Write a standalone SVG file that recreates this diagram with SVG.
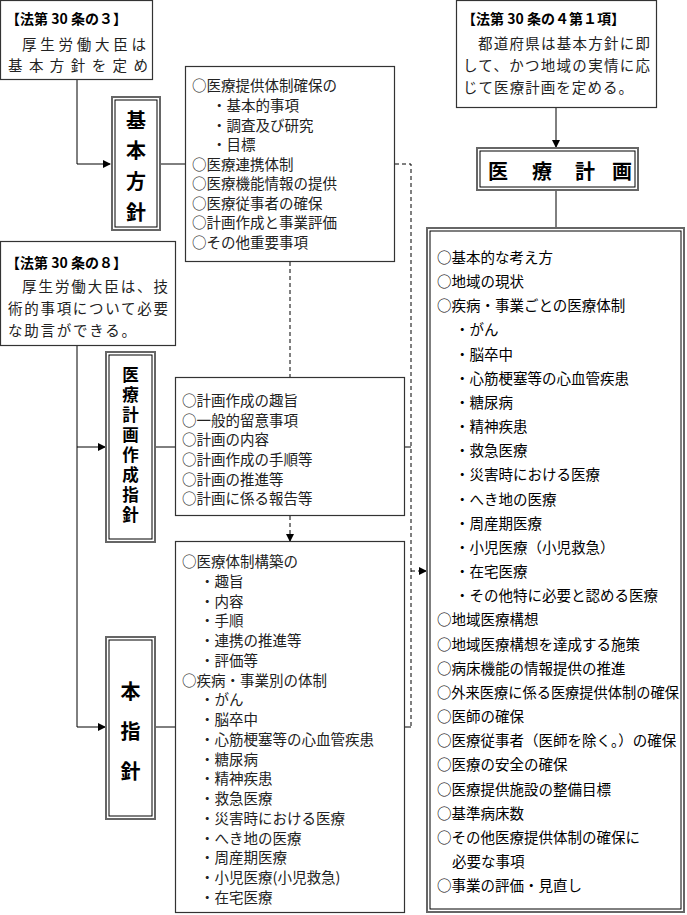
<svg xmlns="http://www.w3.org/2000/svg" width="687" height="915" viewBox="0 0 687 915">
<style>
text{font-family:"Noto Sans CJK JP","Noto Sans",sans-serif;fill:#222;dominant-baseline:central}
.m{font-size:14.5px}
.g{font-size:14.5px;fill:#000}
.h{font-size:14px;font-weight:bold;fill:#000}
.v{font-weight:bold;fill:#000;text-anchor:middle}
.box{fill:#fff;stroke:#333;stroke-width:1.2}
.o{fill:#fff;stroke:#666;stroke-width:2}
.i{fill:none;stroke:#000;stroke-width:1}
.ln{fill:none;stroke:#000;stroke-width:1}
.d{fill:none;stroke:#000;stroke-width:1;stroke-dasharray:4,3}
</style>
<defs><marker id="a" markerWidth="8" markerHeight="8" refX="7" refY="4" orient="auto" markerUnits="userSpaceOnUse"><path d="M0,0L8,4L0,8z" fill="#000"/></marker></defs>
<g id="connectors">
<path class="ln" d="M77,80V164H110" marker-end="url(#a)"/>
<path class="ln" d="M160,164H185"/>
<path class="d" d="M395,164H411V727"/>
<path class="ln" d="M405,447H411M405,727H411"/>
<path class="d" d="M411,571H426" marker-end="url(#a)"/>
<path class="d" d="M290,262V377"/>
<path class="d" d="M290,516V541" marker-end="url(#a)"/>
<path class="ln" d="M77,345V727H105" marker-end="url(#a)"/>
<path class="ln" d="M77,447H105" marker-end="url(#a)"/>
<path class="ln" d="M155,447H175M155,727H175"/>
<path class="ln" d="M556,108V147" marker-end="url(#a)"/>
<path class="ln" d="M556,190V228"/>
</g>
<g id="law3">
<rect class="box" x="0.5" y="0.5" width="152" height="79"/>
<text class="h" x="6" y="18">【法第 30 条の３】</text>
<text class="m" x="22" y="43" textLength="124" lengthAdjust="spacing">厚生労働大臣は</text>
<text class="m" x="8" y="64" textLength="140" lengthAdjust="spacing">基本方針を定め</text>
</g>
<g id="kihon">
<rect class="o" x="112" y="97" width="48" height="133"/>
<rect class="i" x="115" y="100" width="42" height="127"/>
<text class="v" font-size="20" x="136" y="119">基</text>
<text class="v" font-size="20" x="136" y="149">本</text>
<text class="v" font-size="20" x="136" y="180">方</text>
<text class="v" font-size="20" x="136" y="211">針</text>
</g>
<g id="kihonList">
<rect class="box" x="185.5" y="66.5" width="209" height="195"/>
<text class="m" x="192" y="84">○医療提供体制確保の</text>
<text class="m" x="212" y="104">・基本的事項</text>
<text class="m" x="212" y="124">・調査及び研究</text>
<text class="m" x="212" y="143">・目標</text>
<text class="m" x="192" y="163">○医療連携体制</text>
<text class="m" x="192" y="182">○医療機能情報の提供</text>
<text class="m" x="192" y="202">○医療従事者の確保</text>
<text class="m" x="192" y="221">○計画作成と事業評価</text>
<text class="m" x="192" y="241">○その他重要事項</text>
</g>
<g id="law8">
<rect class="box" x="0.5" y="241.5" width="175" height="104"/>
<text class="h" x="6" y="262">【法第 30 条の８】</text>
<text class="m" x="22" y="285" textLength="146" lengthAdjust="spacing">厚生労働大臣は、技</text>
<text class="m" x="8" y="307" textLength="160" lengthAdjust="spacing">術的事項について必要</text>
<text class="m" x="8" y="329" textLength="128" lengthAdjust="spacing">な助言ができる。</text>
</g>
<g id="sakusei">
<rect class="o" x="106" y="352" width="49" height="190"/>
<rect class="i" x="109" y="355" width="43" height="184"/>
<text class="v" font-size="16.5" x="130.5" y="374">医</text>
<text class="v" font-size="16.5" x="130.5" y="394">療</text>
<text class="v" font-size="16.5" x="130.5" y="414">計</text>
<text class="v" font-size="16.5" x="130.5" y="434">画</text>
<text class="v" font-size="16.5" x="130.5" y="454">作</text>
<text class="v" font-size="16.5" x="130.5" y="474">成</text>
<text class="v" font-size="16.5" x="130.5" y="494">指</text>
<text class="v" font-size="16.5" x="130.5" y="514">針</text>
</g>
<g id="sakuseiList">
<rect class="box" x="175.5" y="377.5" width="229" height="138"/>
<text class="m" x="182" y="399">○計画作成の趣旨</text>
<text class="m" x="182" y="419">○一般的留意事項</text>
<text class="m" x="182" y="438">○計画の内容</text>
<text class="m" x="182" y="458">○計画作成の手順等</text>
<text class="m" x="182" y="478">○計画の推進等</text>
<text class="m" x="182" y="497">○計画に係る報告等</text>
</g>
<g id="honshishin">
<rect class="o" x="106" y="637" width="49" height="182"/>
<rect class="i" x="109" y="640" width="43" height="176"/>
<text class="v" font-size="20" x="130.5" y="690">本</text>
<text class="v" font-size="20" x="130.5" y="730">指</text>
<text class="v" font-size="20" x="130.5" y="770">針</text>
</g>
<g id="honList">
<rect class="box" x="175.5" y="541.5" width="229" height="371"/>
<text class="m" x="182" y="560">○医療体制構築の</text>
<text class="m" x="200" y="580">・趣旨</text>
<text class="m" x="200" y="600">・内容</text>
<text class="m" x="200" y="619">・手順</text>
<text class="m" x="200" y="639">・連携の推進等</text>
<text class="m" x="200" y="659">・評価等</text>
<text class="m" x="182" y="679">○疾病・事業別の体制</text>
<text class="m" x="200" y="698">・がん</text>
<text class="m" x="200" y="718">・脳卒中</text>
<text class="m" x="200" y="738">・心筋梗塞等の心血管疾患</text>
<text class="m" x="200" y="758">・糖尿病</text>
<text class="m" x="200" y="777">・精神疾患</text>
<text class="m" x="200" y="797">・救急医療</text>
<text class="m" x="200" y="817">・災害時における医療</text>
<text class="m" x="200" y="837">・へき地の医療</text>
<text class="m" x="200" y="856">・周産期医療</text>
<text class="m" x="200" y="876">・小児医療(小児救急)</text>
<text class="m" x="200" y="896">・在宅医療</text>
</g>
<g id="law4">
<rect class="box" x="456.5" y="0.5" width="200" height="107"/>
<text class="h" x="462" y="18">【法第 30 条の４第１項】</text>
<text class="m" x="478" y="42" textLength="172" lengthAdjust="spacing">都道府県は基本方針に即</text>
<text class="m" x="463" y="64" textLength="187" lengthAdjust="spacing">して、かつ地域の実情に応</text>
<text class="m" x="463" y="86" textLength="170" lengthAdjust="spacing">じて医療計画を定める。</text>
</g>
<g id="iryokeikaku">
<rect class="o" x="477" y="148" width="161" height="42"/>
<rect class="i" x="480" y="151" width="155" height="36"/>
<text class="v" font-size="20" x="498" y="170">医</text>
<text class="v" font-size="20" x="542" y="170">療</text>
<text class="v" font-size="20" x="585" y="170">計</text>
<text class="v" font-size="20" x="622" y="170">画</text>
</g>
<g id="keikakuList">
<rect class="o" x="427" y="228" width="257" height="684"/>
<rect class="i" x="430" y="231" width="251" height="678"/>
<text class="g" x="437" y="256">○基本的な考え方</text>
<text class="g" x="437" y="280">○地域の現状</text>
<text class="g" x="437" y="304">○疾病・事業ごとの医療体制</text>
<text class="g" x="455" y="328">・がん</text>
<text class="g" x="455" y="353">・脳卒中</text>
<text class="g" x="455" y="377">・心筋梗塞等の心血管疾患</text>
<text class="g" x="455" y="401">・糖尿病</text>
<text class="g" x="455" y="425">・精神疾患</text>
<text class="g" x="455" y="449">・救急医療</text>
<text class="g" x="455" y="473">・災害時における医療</text>
<text class="g" x="455" y="498">・へき地の医療</text>
<text class="g" x="455" y="522">・周産期医療</text>
<text class="g" x="455" y="546">・小児医療（小児救急）</text>
<text class="g" x="455" y="570">・在宅医療</text>
<text class="g" x="455" y="594">・その他特に必要と認める医療</text>
<text class="g" x="437" y="618">○地域医療構想</text>
<text class="g" x="437" y="643">○地域医療構想を達成する施策</text>
<text class="g" x="437" y="667">○病床機能の情報提供の推進</text>
<text class="g" x="437" y="691" textLength="242" lengthAdjust="spacingAndGlyphs">○外来医療に係る医療提供体制の確保</text>
<text class="g" x="437" y="715">○医師の確保</text>
<text class="g" x="437" y="739">○医療従事者（医師を除く。）の確保</text>
<text class="g" x="437" y="763">○医療の安全の確保</text>
<text class="g" x="437" y="788">○医療提供施設の整備目標</text>
<text class="g" x="437" y="812">○基準病床数</text>
<text class="g" x="437" y="836">○その他医療提供体制の確保に</text>
<text class="g" x="452" y="860">必要な事項</text>
<text class="g" x="437" y="884">○事業の評価・見直し</text>
</g>
</svg>
